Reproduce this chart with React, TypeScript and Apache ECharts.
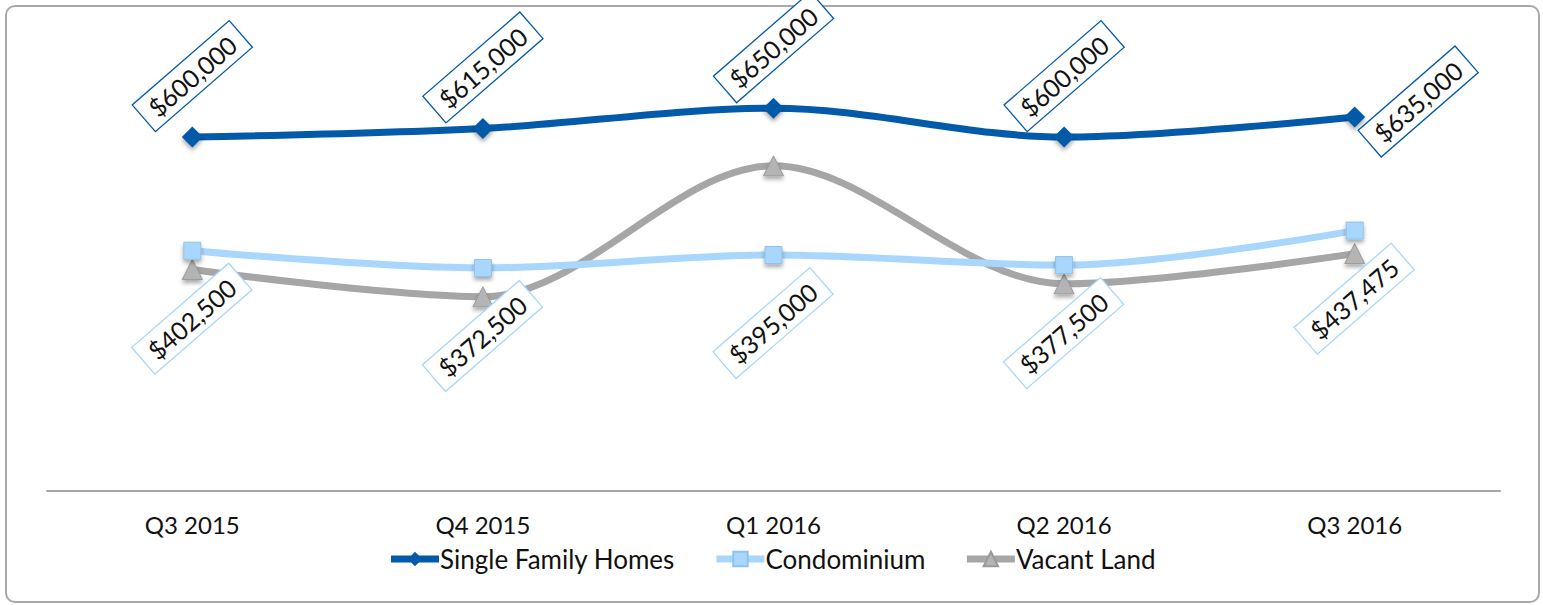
import React, { useEffect, useRef } from "react";
import * as echarts from "echarts";

const categories = ["Q3 2015", "Q4 2015", "Q1 2016", "Q2 2016", "Q3 2016"];
const singleFamily = [600000, 615000, 650000, 600000, 635000];
const condominium = [402500, 372500, 395000, 377500, 437475];
const vacantLand = [370000, 322500, 550000, 345000, 397500];
const seriesNames = ["Single Family Homes", "Condominium", "Vacant Land"];

const FONT = "Lato, 'Open Sans', sans-serif";
const fmt = (v: number) => "$" + v.toLocaleString("en-US");

export default function App() {
  const ref = useRef<HTMLDivElement>(null);
  useEffect(() => {
    if (!ref.current) return;
    const chart = echarts.init(ref.current, null, { renderer: "svg" });
    const labelBase = {
      show: true,
      position: "inside",
      rotate: 41,
      align: "center",
      verticalAlign: "middle",
      fontFamily: FONT,
      fontSize: 25,
      color: "#111",
      backgroundColor: "#fff",
      borderWidth: 1.3,
      padding: [5, 10, 4, 10],
      formatter: (p: any) => fmt(p.value),
    };
    const markerShadow = {
      shadowBlur: 4,
      shadowColor: "rgba(0,0,0,0.35)",
      shadowOffsetY: 3,
    };
    chart.setOption({
      animation: false,
      textStyle: { fontFamily: FONT },
      graphic: [
        {
          type: "rect",
          shape: { x: 6, y: 6, width: 1533, height: 596, r: 9 },
          style: { fill: "none", stroke: "#a9a9a9", lineWidth: 2 },
          silent: true,
        },
      ],
      grid: { left: 47, right: 43, top: 79.5, bottom: 114 },
      legend: {
        data: seriesNames,
        left: "center",
        top: 541,
        itemWidth: 48,
        itemHeight: 18,
        itemGap: 38,
        lineStyle: { width: 7 },
        textStyle: { fontFamily: FONT, fontSize: 26, color: "#111", padding: [0, 0, 0, -4] },
      },
      xAxis: {
        type: "category",
        data: categories,
        boundaryGap: true,
        axisLine: { onZero: false, lineStyle: { color: "#a6a6a6", width: 2 } },
        axisTick: { show: false },
        axisLabel: { fontFamily: FONT, fontSize: 24, color: "#111", margin: 21 },
      },
      yAxis: {
        type: "value",
        min: -15000,
        max: 700000,
        show: false,
        splitLine: { show: false },
      },
      series: [
        {
          name: seriesNames[0],
          type: "line",
          smooth: 0.33,
          data: singleFamily.map((v, i) =>
            i === singleFamily.length - 1 ? { value: v, label: { offset: [58, 30] } } : v
          ),
          color: "#035aa8",
          lineStyle: { width: 7, color: "#035aa8" },
          symbol: "diamond",
          symbolSize: 21,
          itemStyle: { color: "#035aa8", ...markerShadow },
          label: { ...labelBase, borderColor: "#035aa8", offset: [40, -46] },
          z: 4,
        },
        {
          name: seriesNames[1],
          type: "line",
          smooth: 0.33,
          data: condominium,
          color: "#a8d6fc",
          lineStyle: { width: 7, color: "#a8d6fc" },
          symbol: "rect",
          symbolSize: 17,
          itemStyle: { color: "#a8d6fc", borderColor: "#8fc2ec", borderWidth: 1, ...markerShadow },
          label: { ...labelBase, borderColor: "#a8d6fc", offset: [-45, 51] },
          z: 3,
        },
        {
          name: seriesNames[2],
          type: "line",
          smooth: 0.33,
          data: vacantLand,
          color: "#a6a6a6",
          lineStyle: { width: 7, color: "#a6a6a6" },
          symbol: "triangle",
          symbolSize: 20,
          itemStyle: { color: "#b4b4b4", borderColor: "#9a9a9a", borderWidth: 1, ...markerShadow },
          label: { show: false },
          z: 2,
        },
      ],
    });
    return () => chart.dispose();
  }, []);
  return (
    <div style={{ position: "fixed", left: 0, top: 0, width: 1543, height: 605, background: "#fff" }}>
      <div ref={ref} style={{ width: 1543, height: 605 }} />
    </div>
  );
}
